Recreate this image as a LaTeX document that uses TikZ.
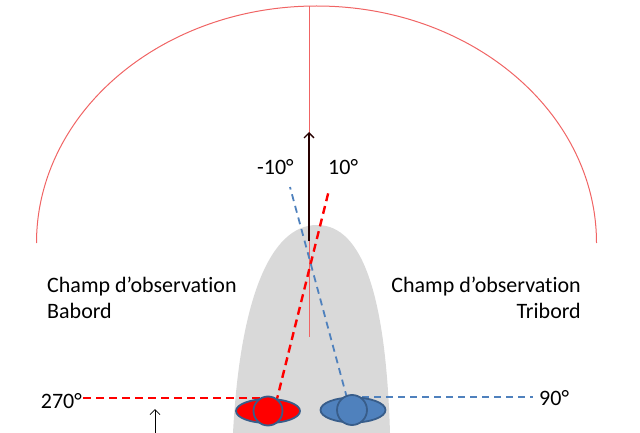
\documentclass[tikz,border=0pt]{standalone}
\usepackage{fontspec}
\setmainfont[Ligatures=NoCommon]{Carlito}
\usetikzlibrary{arrows.meta,shapes.geometric}
\definecolor{arcred}{RGB}{240,100,100}
\definecolor{hullgray}{RGB}{217,217,217}
\definecolor{blueline}{RGB}{79,129,189}
\definecolor{darkblue}{RGB}{56,93,138}
\tikzset{
  lbl/.style={font=\fontsize{22}{26}\selectfont, inner sep=0pt},
  reddash/.style={draw=red, line width=2.4pt, dash pattern=on 8pt off 5pt},
  bluedash/.style={draw=blueline, line width=1.8pt, dash pattern=on 7pt off 5pt},
  thinred/.style={draw=arcred, line width=1pt},
  headarrow/.style={-{Straight Barb[length=5pt,width=10pt]}},
}
\begin{document}
\begin{tikzpicture}[x=1pt,y=1pt]
\useasboundingbox (0,0) rectangle (640,-433);
% hull
\fill[hullgray] (233,-433) .. controls (240,-300) and (270,-225) .. (317,-225)
  .. controls (364,-225) and (386,-300) .. (390,-433) -- cycle;
% big arc
\draw[thinred] (36.5,-243) arc[start angle=180, end angle=0, x radius=280, y radius=237];
\coordinate (top) at (309,-6);
\coordinate (axisbot) at (309,-337);
\draw[thinred] (top) -- (axisbot);
% heading arrow
\coordinate (hs) at (309,-241);
\coordinate (he) at (309,-132);
\draw[black!85!red, line width=1.3pt, headarrow] (hs) -- (he);
% coordinates of dashed lines
\coordinate (rtop) at (329,-190);
\coordinate (rbot) at (276,-403);
\coordinate (btop) at (290,-187);
\coordinate (bbot) at (347,-398);
\coordinate (rleft) at (83,-398);
\coordinate (rright) at (266,-398);
\coordinate (bleft) at (350,-397);
\coordinate (bright) at (533,-397);
\draw[reddash] (rbot) -- (rtop);
\draw[bluedash] (bbot) -- (btop);
\draw[reddash] (rleft) -- (rright);
\draw[bluedash] (bleft) -- (bright);
% eyes
\node[draw=darkblue, line width=1.8pt, fill=red, ellipse, minimum width=64pt, minimum height=24pt, inner sep=0pt] (leye) at (268,-411) {};
\node[draw=darkblue, line width=1.8pt, fill=red, circle, minimum size=29pt, inner sep=0pt] (lpupil) at (268,-411) {};
\node[draw=darkblue, line width=1.8pt, fill=blueline, ellipse, minimum width=65pt, minimum height=25pt, inner sep=0pt] (reye) at (353,-410) {};
\node[draw=darkblue, line width=1.8pt, fill=blueline, circle, minimum size=30pt, inner sep=0pt] (rpupil) at (352,-410) {};
% small arrow
\coordinate (sa) at (155,-433);
\coordinate (sb) at (155,-409);
\draw[black, line width=0.8pt, headarrow] (sa) -- (sb);
% labels
\node[lbl, anchor=base west] (l1) at (47,-292) {Champ d’observation};
\node[lbl, anchor=base west] (l2) at (47,-318) {Babord};
\node[lbl, anchor=base east] (r1) at (581,-292) {Champ d’observation};
\node[lbl, anchor=base east] (r2) at (581,-318) {Tribord};
\node[lbl, anchor=base west] (m10) at (257,-175) {-10°};
\node[lbl, anchor=base west] (p10) at (328,-175) {10°};
\node[lbl, anchor=base east] (d270) at (82,-408) {270°};
\node[lbl, anchor=base west] (d90) at (539,-405) {90°};
\end{tikzpicture}
\end{document}
